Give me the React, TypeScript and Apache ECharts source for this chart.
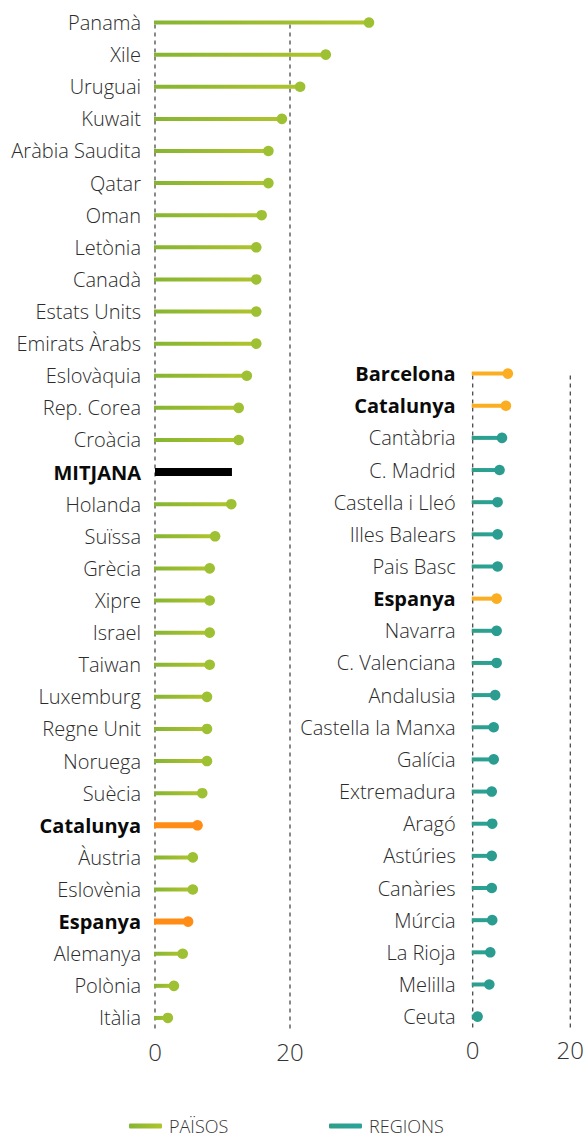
import React, { useEffect, useRef } from "react";
import * as echarts from "echarts";

const countries = [
  "Panamà", "Xile", "Uruguai", "Kuwait", "Aràbia Saudita", "Qatar", "Oman", "Letònia",
  "Canadà", "Estats Units", "Emirats Àrabs", "Eslovàquia", "Rep. Corea", "Croàcia",
  "MITJANA", "Holanda", "Suïssa", "Grècia", "Xipre", "Israel", "Taiwan", "Luxemburg",
  "Regne Unit", "Noruega", "Suècia", "Catalunya", "Àustria", "Eslovènia", "Espanya",
  "Alemanya", "Polònia", "Itàlia",
];
const countryValues = [
  31.7, 25.3, 21.5, 18.8, 16.8, 16.8, 15.8, 15.0, 15.0, 15.0, 15.0, 13.6, 12.4, 12.4,
  11.4, 11.3, 8.9, 8.1, 8.1, 8.1, 8.1, 7.7, 7.7, 7.7, 7.0, 6.3, 5.6, 5.6, 4.9, 4.1, 2.8, 1.9,
];
const countryHighlights = ["Catalunya", "Espanya"];
const meanLabel = "MITJANA";

const regions = [
  "Barcelona", "Catalunya", "Cantàbria", "C. Madrid", "Castella i Lleó", "Illes Balears",
  "Pais Basc", "Espanya", "Navarra", "C. Valenciana", "Andalusia", "Castella la Manxa",
  "Galícia", "Extremadura", "Aragó", "Astúries", "Canàries", "Múrcia", "La Rioja",
  "Melilla", "Ceuta",
];
const regionValues = [
  7.2, 6.8, 6.0, 5.5, 5.1, 5.1, 5.1, 4.9, 4.9, 4.9, 4.6, 4.3, 4.3, 3.9, 4.0, 3.9, 3.9,
  4.0, 3.6, 3.4, 1.0,
];
const regionHighlights = ["Barcelona", "Catalunya", "Espanya"];

const refTicks = [0, 20];
const legendNames = ["PAÏSOS", "REGIONS"];

const FONT = "'Open Sans', 'Noto Sans', sans-serif";

const greenGrad = () =>
  new echarts.graphic.LinearGradient(0, 0, 1, 0, [
    { offset: 0, color: "#86b533" },
    { offset: 1, color: "#b0c42c" },
  ]);
const tealGrad = () =>
  new echarts.graphic.LinearGradient(0, 0, 1, 0, [
    { offset: 0, color: "#2e9e87" },
    { offset: 1, color: "#2aa39c" },
  ]);

type Theme = {
  grad: () => any;
  dot: string;
  hlColor: string;
  hlWidth: number;
};

function makeRender(theme: Theme, lastIndex: number) {
  return (params: any, api: any) => {
    const idx = params.dataIndex;
    const v = api.value(0);
    const c = api.value(1);
    const kind = api.value(2);
    const p0 = api.coord([0, c]);
    const p1 = api.coord([v, c]);
    const band = api.size([0, 1])[1];
    const children: any[] = [];
    if (idx === 0) {
      const pLast = api.coord([0, lastIndex]);
      for (const t of refTicks) {
        const x = api.coord([t, c])[0];
        children.push({
          type: "line",
          shape: { x1: x, y1: p0[1] + 2, x2: x, y2: pLast[1] + band * 0.4 },
          style: { stroke: "#4a4a4a", lineWidth: 1.3, lineDash: [4, 4] },
          z2: 0,
        });
      }
    }
    if (kind === 2) {
      children.push({
        type: "rect",
        shape: { x: p0[0], y: p0[1] - 4, width: p1[0] - p0[0], height: 8 },
        style: { fill: "#000" },
        z2: 1,
      });
    } else {
      const w = kind === 1 ? theme.hlWidth : 4;
      children.push({
        type: "rect",
        shape: { x: p0[0] - 1, y: p0[1] - w / 2, width: p1[0] - p0[0] + 1, height: w },
        style: { fill: kind === 1 ? theme.hlColor : theme.grad() },
        z2: 1,
      });
      children.push({
        type: "circle",
        shape: { cx: p1[0], cy: p1[1], r: 5.3 },
        style: { fill: kind === 1 ? theme.hlColor : theme.dot },
        z2: 2,
      });
    }
    return { type: "group", children };
  };
}

const labelFormatter = (bold: string[]) => (value: string) =>
  bold.includes(value) ? `{b|${value}}` : `{n|${value}}`;

const richLabels = {
  n: { fontFamily: FONT, fontSize: 20, fontWeight: 300, color: "#2b2b2b" },
  b: { fontFamily: FONT, fontSize: 20, fontWeight: "bold", color: "#0a0a0a" },
};

export default function App() {
  const ref = useRef<HTMLDivElement>(null);
  useEffect(() => {
    document.body.style.margin = "0";
    if (!ref.current) return;
    const chart = echarts.init(ref.current, undefined, { renderer: "svg" });

    const countryData = countries.map((c, i) => [
      countryValues[i],
      i,
      c === meanLabel ? 2 : countryHighlights.includes(c) ? 1 : 0,
    ]);
    const regionData = regions.map((r, i) => [
      regionValues[i],
      i,
      regionHighlights.includes(r) ? 1 : 0,
    ]);

    const xAxisCommon = {
      type: "value",
      min: 0,
      interval: 20,
      axisLine: { show: false },
      axisTick: { show: false },
      splitLine: { show: false },
      axisLabel: {
        fontFamily: FONT,
        fontSize: 24,
        fontWeight: 300,
        color: "#333",
        margin: 5,
        formatter: (v: number) => (refTicks.includes(v) ? String(v) : ""),
      },
    };

    const legendCommon = {
      icon: "roundRect",
      itemWidth: 33,
      itemHeight: 5,
      top: 1112,
      padding: [5, 5, 0, 5],
      textStyle: {
        fontFamily: FONT,
        fontSize: 18,
        lineHeight: 18,
        fontWeight: 300,
        color: "#333",
        padding: [0, 0, 0, 2],
      },
      selectedMode: false,
    };

    chart.setOption({
      animation: false,
      backgroundColor: "#fff",
      grid: [
        { left: 155, top: 6.5, width: 270, height: 1027.5 },
        { left: 472.7, top: 357.5, width: 99.3, height: 675.2 },
      ],
      xAxis: [
        { ...xAxisCommon, gridIndex: 0, max: 40 },
        { ...xAxisCommon, gridIndex: 1, max: 20 },
      ],
      yAxis: [
        {
          type: "category",
          gridIndex: 0,
          inverse: true,
          data: countries,
          axisLine: { show: false },
          axisTick: { show: false },
          axisLabel: {
            margin: 14,
            formatter: labelFormatter([meanLabel, ...countryHighlights]),
            rich: richLabels,
          },
        },
        {
          type: "category",
          gridIndex: 1,
          inverse: true,
          data: regions,
          axisLine: { show: false },
          axisTick: { show: false },
          axisLabel: {
            margin: 17,
            formatter: labelFormatter(regionHighlights),
            rich: richLabels,
          },
        },
      ],
      legend: [
        {
          ...legendCommon,
          data: [{ name: legendNames[0], itemStyle: { color: greenGrad() } }],
          left: 124,
        },
        {
          ...legendCommon,
          data: [{ name: legendNames[1], itemStyle: { color: tealGrad() } }],
          left: 324,
        },
      ],
      series: [
        {
          name: legendNames[0],
          type: "custom",
          xAxisIndex: 0,
          yAxisIndex: 0,
          encode: { x: 0, y: 1 },
          itemStyle: { color: greenGrad() },
          renderItem: makeRender(
            { grad: greenGrad, dot: "#9ec033", hlColor: "#ff8c14", hlWidth: 6 },
            countries.length - 1
          ),
          data: countryData,
          clip: false,
        },
        {
          name: legendNames[1],
          type: "custom",
          xAxisIndex: 1,
          yAxisIndex: 1,
          encode: { x: 0, y: 1 },
          itemStyle: { color: tealGrad() },
          renderItem: makeRender(
            { grad: tealGrad, dot: "#2a9d90", hlColor: "#fbae22", hlWidth: 4 },
            regions.length - 1
          ),
          data: regionData,
          clip: false,
        },
      ],
    });
    return () => chart.dispose();
  }, []);
  return <div ref={ref} style={{ width: 587, height: 1140 }} />;
}
